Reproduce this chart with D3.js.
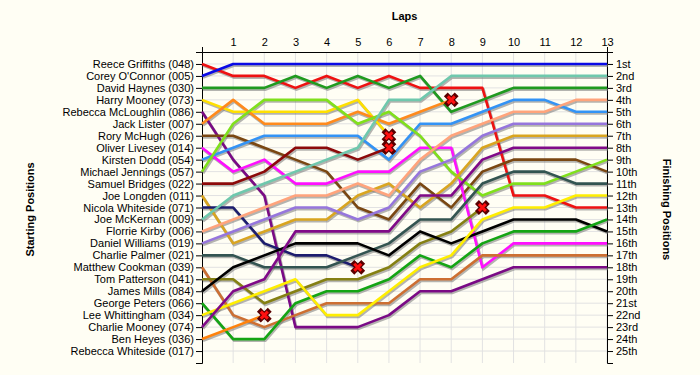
<!DOCTYPE html>
<head>
<meta charset="utf-8">
</head>
<style>
body { margin: 0; background: #fffef4; }
text { font-family: "Liberation Sans", Arial, sans-serif; }
.axis text { font-size: 11px; fill: #000; }
.axis path, .axis line { stroke: #000; }
.grid line { stroke: #e2e2e2; }
.title { font-size: 11px; font-weight: bold; }
</style>
<body>
<svg id="chart" width="700" height="375"></svg>

<script src="https://d3js.org/d3.v7.min.js"></script>
<script>

var laps = [1, 2, 3, 4, 5, 6, 7, 8, 9, 10, 11, 12, 13];
var finishLabels = ["1st","2nd","3rd","4th","5th","6th","7th","8th","9th","10th","11th","12th","13th",
  "14th","15th","16th","17th","18th","19th","20th","21st","22nd","23rd","24th","25th"];

// starting grid, position 1 first
var drivers = ["Reece Griffiths (048)", "Corey O'Connor (005)", "David Haynes (030)", "Harry Mooney (073)",
  "Rebecca McLoughlin (086)", "Jack Lister (007)", "Rory McHugh (026)", "Oliver Livesey (014)",
  "Kirsten Dodd (054)", "Michael Jennings (057)", "Samuel Bridges (022)", "Joe Longden (011)",
  "Nicola Whiteside (071)", "Joe McKernan (009)", "Florrie Kirby (006)", "Daniel Williams (019)",
  "Charlie Palmer (021)", "Matthew Cookman (039)", "Tom Patterson (041)", "James Mills (084)",
  "George Peters (066)", "Lee Whittingham (034)", "Charlie Mooney (074)", "Ben Heyes (036)",
  "Rebecca Whiteside (017)"];

// position at lap 0..13 for each driver; a shorter list = retired on its last lap
var positions = [
  [1,2,2,3,2,3,2,3,3,3,12,12,13,13],
  [2,1,1,1,1,1,1,1,1,1,1,1,1,1],
  [3,3,3,2,3,2,3,2,5,4,3,3,3,3],
  [4,5,5,5,5,4,7],
  [5,9,12,23,23,23,22,20,20,19,18,18,18,18],
  [6,4,6,6,6,5,6,5,4],
  [7,7,8,9,10,13,14,11,13,10,9,9,9,10],
  [8,10,9,11,11,10,10,8,8,18,16,16,16,16],
  [9,8,7,7,7,7,9,6,6,5,4,4,5,5],
  [10,6,4,4,4,6,5,7,10,12,11,11,10,9],
  [11,11,10,8,8,9,8],
  [12,16,15,14,14,12,11,13,11,8,7,7,7,7],
  [13,13,16,17,17,18],
  [14,12,11,10,9,8,4,4,2,2,2,2,2,2],
  [15,14,13,12,12,11,12,9,7,6,5,5,4,4],
  [16,15,14,13,13,14,13,10,9,7,6,6,6,6],
  [17,17,18,18,18,17,16,14,14,11,10,10,11,11],
  [18,22,23,22,21,21,21,19,19,17,17,17,17,17],
  [19,19,21,20,19,19,18,16,15,13],
  [20,18,17,16,16,16,17,15,16,15,14,14,14,15],
  [21,24,24,21,20,20,19,17,18,16,15,15,15,14],
  [22,21,20,19,22,22,20,18,17,14,13,13,12,12],
  [23,20,19,15,15,15,15,12,12,9,8,8,8,8],
  [24,23,22],
  []
];

var colors = ["#ee1111", "#0a0ae6", "#1f9a1f", "#ffe000", "#7a0a85", "#ff8a1c", "#7a4712", "#ff10ff",
  "#3393f5", "#80e01c", "#8c0a0a", "#d9a520", "#1c1c6e", "#6fc8ad", "#ffa47c", "#9676dc",
  "#335451", "#cd6f32", "#858012", "#000000", "#14a514", "#ffee00", "#800a88", "#ff820a", "#999"];

var svg = d3.select("#chart");

var x = d3.scaleLinear().domain([0, 13]).range([202, 607]),
    y = d3.scaleLinear().domain([0, 26]).range([52, 363]);

// grid
var grid = svg.append("g").attr("class", "grid");
grid.selectAll(".v").data(laps).enter().append("line")
    .attr("x1", function(d) { return x(d); }).attr("x2", function(d) { return x(d); })
    .attr("y1", y(0)).attr("y2", y(26));
grid.selectAll(".h").data(d3.range(1, 26)).enter().append("line")
    .attr("x1", x(0)).attr("x2", x(13))
    .attr("y1", function(d) { return y(d); }).attr("y2", function(d) { return y(d); });

// axes
svg.append("g")
    .attr("class", "axis")
    .attr("transform", "translate(0," + y(0) + ")")
    .call(d3.axisTop(x).tickValues(laps).tickSizeInner(0).tickSizeOuter(5).tickPadding(6));

svg.append("g")
    .attr("class", "axis")
    .attr("transform", "translate(" + x(0) + ",0)")
    .call(d3.axisLeft(y).tickValues(d3.range(1, 26)).tickFormat(function(d) { return drivers[d - 1]; })
      .tickSizeInner(6).tickSizeOuter(6).tickPadding(2));

svg.append("g")
    .attr("class", "axis")
    .attr("transform", "translate(" + x(13) + ",0)")
    .call(d3.axisRight(y).tickValues(d3.range(1, 26)).tickFormat(function(d) { return finishLabels[d - 1]; })
      .tickSizeInner(6).tickSizeOuter(6).tickPadding(3));

// lines
var line = d3.line()
    .x(function(d, i) { return x(i); })
    .y(function(d) { return y(d); });

var lines = svg.append("g");
positions.forEach(function(p, i) {
  if (p.length < 2) return;
  lines.append("path")
      .attr("d", line(p))
      .attr("transform", "translate(1,1.5)")
      .attr("fill", "none")
      .attr("stroke", "#777")
      .attr("stroke-opacity", 0.55)
      .attr("stroke-width", 3);
});
positions.forEach(function(p, i) {
  if (p.length < 2) return;
  lines.append("path")
      .attr("d", line(p))
      .attr("fill", "none")
      .attr("stroke", colors[i])
      .attr("stroke-width", 2.6)
      .attr("stroke-linejoin", "round");
});

// retirements
var retired = [];
positions.forEach(function(p) {
  if (p.length > 1 && p.length < 14) retired.push({lap: p.length - 1, pos: p[p.length - 1]});
});
var cross = svg.append("g").selectAll("g").data(retired).enter().append("g")
    .attr("transform", function(d) { return "translate(" + x(d.lap) + "," + y(d.pos) + ")"; });
cross.append("path").attr("d", "M-3.5,-3.5L3.5,3.5M-3.5,3.5L3.5,-3.5")
    .attr("stroke", "#5a0000").attr("stroke-width", 5.5).attr("stroke-linecap", "square");
cross.append("path").attr("d", "M-3.5,-3.5L3.5,3.5M-3.5,3.5L3.5,-3.5")
    .attr("stroke", "#ff1010").attr("stroke-width", 3);

// titles
svg.append("text").attr("class", "title")
    .attr("x", (x(0) + x(13)) / 2).attr("y", 20)
    .attr("text-anchor", "middle").text("Laps");

svg.append("text").attr("class", "title")
    .attr("transform", "translate(34," + (y(13) + 2) + ") rotate(-90)")
    .attr("text-anchor", "middle").text("Starting Positions");

svg.append("text").attr("class", "title")
    .attr("transform", "translate(663," + (y(13) + 2) + ") rotate(90)")
    .attr("text-anchor", "middle").text("Finishing Positions");

</script>
</body>
